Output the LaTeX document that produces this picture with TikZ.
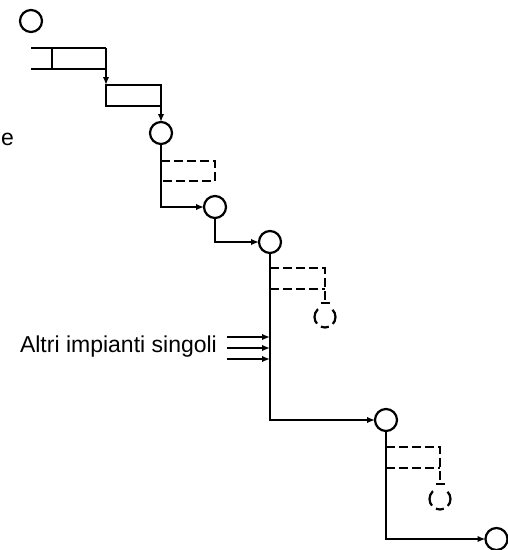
\documentclass[tikz,border=0pt]{standalone}
\usepackage{fontspec}
\setmainfont{Liberation Sans}
\usetikzlibrary{arrows.meta}
\begin{document}
\begin{tikzpicture}[x=1pt,y=-1pt,
  line width=2.2pt,
  stn/.style={draw, circle, minimum size=22pt, inner sep=0pt, outer sep=0pt, line width=2.2pt},
  dstn/.style={draw, circle, minimum size=21pt, inner sep=0pt, outer sep=0pt, line width=2.2pt,
    dash pattern=on 16pt off 16pt on 16pt off 5pt on 8pt off 5pt, dash phase=8pt},
  blk/.style={draw, rectangle, inner sep=0pt, outer sep=0pt, line width=2.2pt},
  flow/.style={-{Latex[length=8pt,width=6.5pt]}},
  link/.style={dash pattern=on 9pt off 4pt},
  lbl/.style={font=\fontsize{23}{27}\selectfont, inner sep=0pt}]
\clip (0,0) rectangle (508,550);

% stations
\node[stn] (c0) at (31,21) {};
\node[stn] (c1) at (161,133) {};
\node[stn] (c2) at (215,207) {};
\node[stn] (c3) at (270,242) {};
\node[stn] (c4) at (386,420) {};
\node[stn] (c5) at (496.5,539) {};

% optional (dashed) stations
\node[dstn] (o1) at (325,317) {};
\node[dstn] (o2) at (440,499) {};

% open block with divider
\coordinate (b1tl) at (31,48);
\coordinate (b1bl) at (31,69);
\coordinate (b1tr) at (106,48);
\coordinate (b1br) at (106,69);
\coordinate (b1dt) at (52,48);
\coordinate (b1db) at (52,69);
\draw (b1tl) -- (b1tr);
\draw (b1bl) -- (b1br);
\draw (b1dt) -- (b1db);

% second block
\node[blk, minimum width=55pt, minimum height=21pt, anchor=north west] (b2) at (106,85) {};

% main flow
\draw[flow] (b1tr) -- (b2.north west);
\draw[flow] (b2.south east) -- (c1.north);
\draw[flow] (c1.south) |- (c2.west);
\draw[flow] (c2.south) |- (c3.west);
\draw[flow] (c3.south) |- (c4.west);
\draw[flow] (c4.south) |- (c5.west);

% dashed branches
\coordinate (t1) at (161,161);
\coordinate (t1e) at (215,161);
\coordinate (u1) at (161,181);
\coordinate (u1e) at (215,181);
\draw[link] (t1) -- (t1e) -- (u1e) -- (u1);

\coordinate (t2) at (270,268);
\coordinate (t2e) at (325,268);
\coordinate (u2) at (270,289);
\coordinate (u2e) at (325,289);
\coordinate (e2) at (325,303);
\coordinate (e2l) at (320.5,303);
\coordinate (e2r) at (329.5,303);
\draw[link] (t2) -- (t2e) -- (e2);
\draw[link] (u2) -- (u2e);
\draw (e2l) -- (e2r);

\coordinate (t3) at (386,447);
\coordinate (t3e) at (440,447);
\coordinate (u3) at (386,468);
\coordinate (u3e) at (440,468);
\coordinate (e3) at (440,484);
\coordinate (e3l) at (435.5,484);
\coordinate (e3r) at (444.5,484);
\draw[link] (t3) -- (t3e) -- (e3);
\draw[link] (u3) -- (u3e);
\draw (e3l) -- (e3r);

% incoming single plants
\node[lbl, anchor=base east] (alt) at (218,352) {Altri impianti singoli};
\coordinate (i1) at (227,337);
\coordinate (j1) at (270,337);
\coordinate (i2) at (227,348);
\coordinate (j2) at (270,348);
\coordinate (i3) at (227,359);
\coordinate (j3) at (270,359);
\draw[flow] (i1) -- (j1);
\draw[flow] (i2) -- (j2);
\draw[flow] (i3) -- (j3);

\node[lbl, anchor=base west] (ee) at (0,145) {e};
\end{tikzpicture}
\end{document}
